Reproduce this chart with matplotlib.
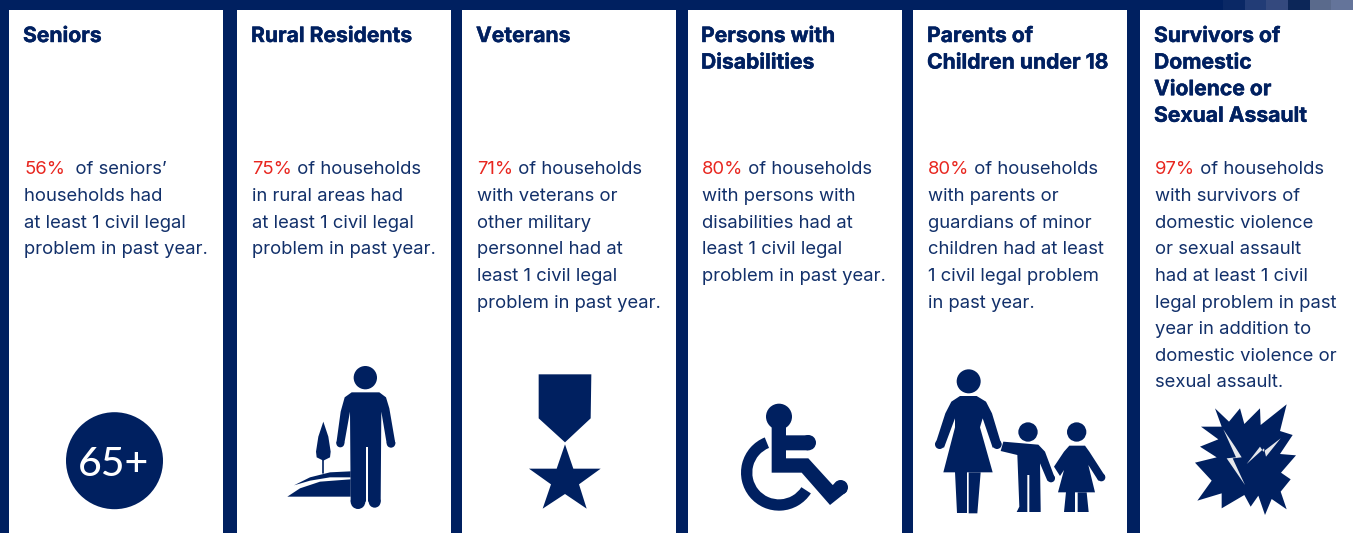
import matplotlib
matplotlib.use("Agg")
import matplotlib.pyplot as plt
import matplotlib.patheffects as pe
from matplotlib.colors import to_rgb
from matplotlib.patches import Circle, Polygon, Rectangle, Wedge

NAVY = "#002060"
RED = "#e8261f"
BODY = "#12306a"

titles = [
    ["Seniors"],
    ["Rural Residents"],
    ["Veterans"],
    ["Persons with", "Disabilities"],
    ["Parents of", "Children under 18"],
    ["Survivors of", "Domestic", "Violence or", "Sexual Assault"],
]
percents = ["56%", "75%", "71%", "80%", "80%", "97%"]
first_lines = [
    "  of seniors’",
    " of households",
    " of households",
    " of households",
    " of households",
    " of households",
]
body_lines = [
    ["households had", "at least 1 civil legal", "problem in past year."],
    ["in rural areas had", "at least 1 civil legal", "problem in past year."],
    ["with veterans or", "other military", "personnel had at", "least 1 civil legal", "problem in past year."],
    ["with persons with", "disabilities had at", "least 1 civil legal", "problem in past year."],
    ["with parents or", "guardians of minor", "children had at least", "1 civil legal problem", "in past year."],
    ["with survivors of", "domestic violence", "or sexual assault", "had at least 1 civil", "legal problem in past",
     "year in addition to", "domestic violence or", "sexual assault."],
]
card_left = [9, 237, 462, 688, 913, 1140]
card_right = [223, 451, 676, 902, 1127, 1353]
text_left = [24, 252, 477, 702, 928, 1155]
strip_colors = ["#002060", "#002060", "#0a2865", "#223c76", "#34497e", "#0c2658", "#5a6a8c", "#64749a"]

fig = plt.figure(figsize=(13.53, 5.33), dpi=100, facecolor=NAVY)
ax = fig.add_axes([0, 0, 1, 1])
ax.set_xlim(0, 1353)
ax.set_ylim(533, 0)
ax.axis("off")


def poly(pts, ox, oy, color=NAVY):
    ax.add_patch(Polygon([(ox + x / 3, oy + y / 3) for x, y in pts], closed=True, fc=color, ec="none", zorder=3))


def limb(pts, ox, oy, w):
    ax.plot([ox + p[0] / 3 for p in pts], [oy + p[1] / 3 for p in pts], color=NAVY, lw=w / 3 * 0.72,
            solid_capstyle="round", solid_joinstyle="round", zorder=3)


def disc(x, y, r, ox, oy):
    ax.add_patch(Circle((ox + x / 3, oy + y / 3), r / 3, fc=NAVY, ec="none", zorder=3))


# lighter bit of photo showing at the top right
ax.imshow([[to_rgb(c) for c in strip_colors]], extent=(1180, 1353, 10, 0), aspect="auto", zorder=1)
ax.set_xlim(0, 1353)
ax.set_ylim(533, 0)

bold = [pe.withStroke(linewidth=0.3, foreground=NAVY)]
renderer = fig.canvas.get_renderer()
for i in range(6):
    ax.add_patch(Rectangle((card_left[i], 10), card_right[i] - card_left[i], 523, fc="white", ec="none", zorder=2))
    for j, line in enumerate(titles[i]):
        ax.text(text_left[i] - 1, 42 + j * 26.6, line, fontsize=15.2, fontweight="bold", family="Inter",
                color=NAVY, va="baseline", zorder=4, path_effects=bold)
    t = ax.text(text_left[i], 174.5, percents[i], fontsize=13.3, family="Inter", color=RED, va="baseline", zorder=4)
    x1 = ax.transData.inverted().transform((t.get_window_extent(renderer).x1, 0))[0]
    ax.text(x1, 174.5, first_lines[i], fontsize=13.3, family="Inter", color=BODY, va="baseline", zorder=4)
    for j, line in enumerate(body_lines[i]):
        ax.text(text_left[i], 174.5 + (j + 1) * 26.6, line, fontsize=13.3, family="Inter",
                color=BODY, va="baseline", zorder=4)

# seniors
ax.add_patch(Circle((114.5, 460.7), 48.5, fc=NAVY, ec="none", zorder=3))
ax.text(113, 476, "65+", fontsize=29.5, family="Lato", fontweight="medium", color="white", ha="center",
        va="baseline", zorder=4)

# rural resident
ox, oy = 0, 340
disc(1096, 113, 35, ox, oy)
poly([(1055, 157), (1138, 157), (1158, 172), (1168, 205), (1186, 310), (1160, 310), (1144, 215), (1142, 485),
      (1052, 485), (1050, 215), (1033, 310), (1009, 310), (1022, 215), (1034, 172)], ox, oy)
disc(1021, 310, 12, ox, oy)
disc(1173, 310, 13, ox, oy)
disc(1074, 485, 22, ox, oy)
disc(1124, 485, 18, ox, oy)
poly([(1097, 322), (1105, 322), (1105, 510), (1097, 510)], ox, oy, "white")
poly([(862, 470), (900, 445), (960, 425), (1052, 418), (1052, 470)], ox, oy)
poly([(882, 436), (930, 412), (990, 397), (1052, 394), (1052, 412), (990, 412), (930, 422)], ox, oy)
poly([(970, 245), (985, 290), (992, 335), (990, 352), (970, 362), (950, 352), (948, 335), (955, 290)], ox, oy)
limb([(970, 360), (970, 400)], ox, oy, 5)

# medal
ox, oy = 460, 350
poly([(236, 73), (394, 73), (392, 205), (315, 277), (236, 205)], ox, oy)
poly([(315, 283), (340, 356), (422, 356), (357, 403), (380, 476), (315, 432), (248, 476), (273, 403), (207, 356),
      (290, 356)], ox, oy)

# wheelchair
disc(957, 200, 39, ox, oy)
poly([(935, 225), (978, 225), (978, 256), (1045, 256), (1045, 301), (978, 301), (978, 325), (1045, 325), (1118, 405),
      (1135, 392), (1160, 425), (1110, 465), (1025, 368), (935, 368)], ox, oy)
disc(1045, 278, 23, ox, oy)
disc(1142, 412, 22, ox, oy)
ax.add_patch(Wedge((ox + 957 / 3, oy + 368 / 3), 114 / 3, 33, 248, width=34 / 3, fc=NAVY, ec="none", zorder=3))

# family
ox, oy = 910, 350
disc(176, 94, 36, ox, oy)
poly([(150, 138), (200, 138), (228, 155), (246, 190), (274, 283), (248, 293), (218, 205), (210, 232), (248, 367),
      (100, 367), (135, 232), (135, 205), (102, 293), (76, 283), (106, 190), (124, 155)], ox, oy)
disc(89, 283, 14, ox, oy)
disc(261, 283, 14, ox, oy)
poly([(135, 367), (171, 367), (171, 490), (142, 490)], ox, oy)
poly([(176, 367), (212, 367), (202, 490), (176, 490)], ox, oy)
disc(354, 246, 29, ox, oy)
poly([(280, 275), (385, 284), (405, 305), (435, 385), (412, 392), (390, 340), (392, 475), (392, 486), (358, 486),
      (358, 375), (352, 375), (352, 486), (320, 486), (328, 470), (322, 315), (272, 303)], ox, oy)
disc(423, 385, 12, ox, oy)
disc(500, 246, 29, ox, oy)
poly([(478, 287), (525, 287), (538, 305), (585, 378), (565, 392), (535, 345), (555, 427), (444, 427), (462, 360),
      (450, 378), (432, 350), (462, 305)], ox, oy)
disc(574, 382, 12, ox, oy)
poly([(468, 427), (496, 427), (496, 486), (462, 486)], ox, oy)
poly([(503, 427), (530, 427), (536, 486), (503, 486)], ox, oy)

# burst
poly([(915, 175), (957, 215), (990, 175), (1003, 222), (1050, 175), (1052, 225), (1130, 163), (1110, 243),
      (1148, 255), (1110, 312), (1158, 316), (1113, 368), (1142, 388), (1112, 425), (1130, 478), (1085, 447),
      (1065, 495), (1045, 437), (1022, 470), (1003, 435), (935, 475), (935, 430), (862, 452), (905, 392), (855, 338),
      (920, 322), (870, 290), (925, 268), (873, 230), (935, 230)], ox, oy)
poly([(940, 238), (975, 290), (995, 322), (968, 325), (1005, 405), (950, 325), (978, 322)], ox, oy, "#e6e8ec")
poly([(1112, 265), (1068, 320), (1062, 295), (1010, 342), (1050, 290), (1060, 305)], ox, oy, "#e6e8ec")

fig.savefig("out.png", dpi=100, facecolor=NAVY)
